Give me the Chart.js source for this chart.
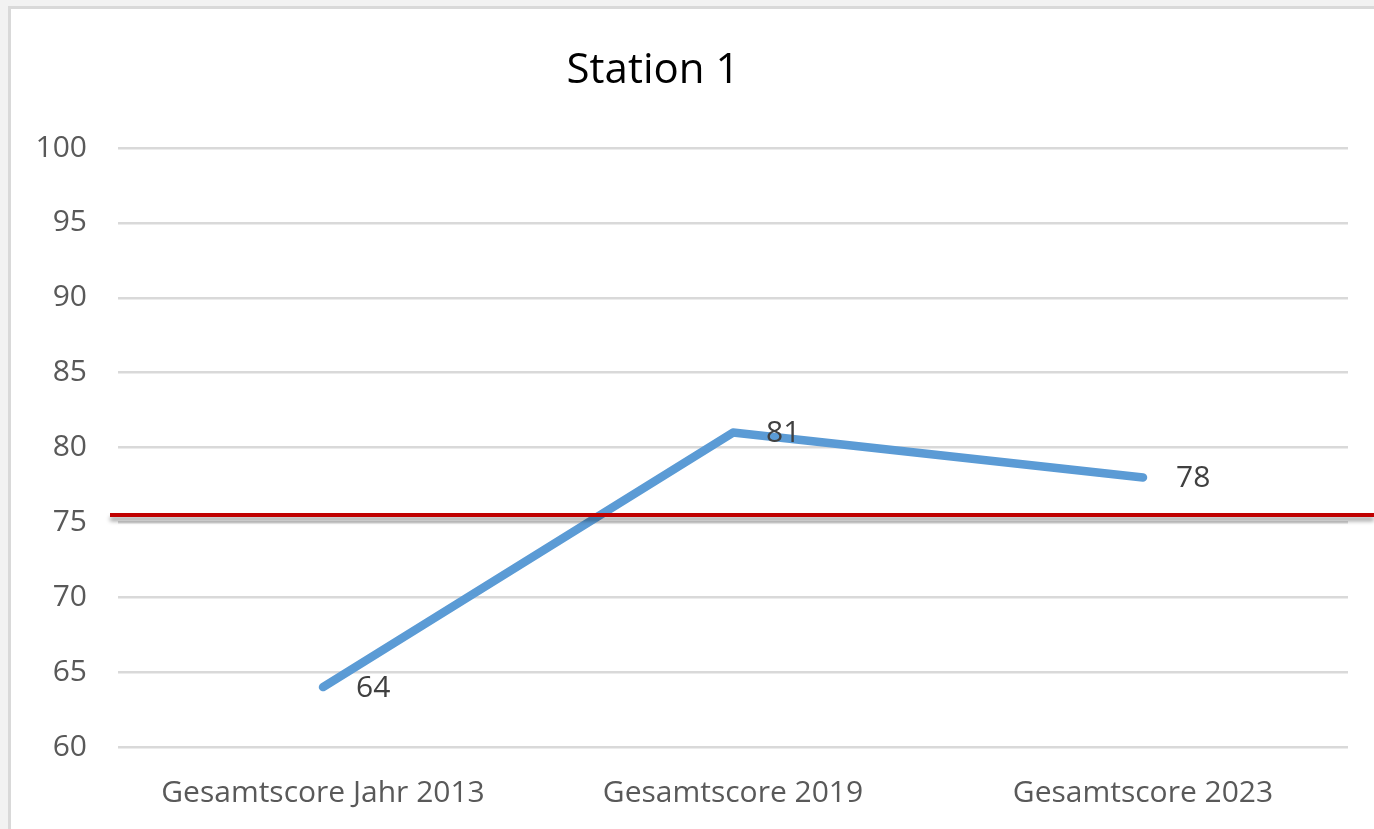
<!DOCTYPE html>
<html>
<head>
<meta charset="utf-8">
<script src="https://cdn.jsdelivr.net/npm/chart.js@4"></script>
<style>
  html, body { margin: 0; padding: 0; background: #f2f2f2; overflow: hidden; }
  #frame {
    position: absolute; left: 8px; top: 6px; width: 1380px; height: 840px;
    background: #fff; border-top: 3px solid #d9d9d9; border-left: 3px solid #d9d9d9;
  }
  #wrap { position: absolute; left: 0; top: 0; width: 1374px; height: 829px; }
</style>
</head>
<body>
<div id="frame"></div>
<div id="wrap"><canvas id="stationChart"></canvas></div>
<script>
const categories = ['Gesamtscore Jahr 2013', 'Gesamtscore 2019', 'Gesamtscore 2023'];
const scores = [64, 81, 78];
const thresholdValue = 75.5;
const chartTitle = 'Station 1';

const ctx = document.getElementById('stationChart').getContext('2d');

// title drawn by hand so it sits where the original one is
const titlePlugin = {
  id: 'titlePlugin',
  afterDraw(chart) {
    const c = chart.ctx;
    c.save();
    c.font = '42px "Open Sans"';
    c.fillStyle = '#000';
    c.textAlign = 'center';
    c.textBaseline = 'middle';
    c.fillText(chartTitle, 653, 71);
    c.restore();
  }
};

// value labels to the right of each point
const valueLabels = {
  id: 'valueLabels',
  afterDatasetsDraw(chart) {
    const c = chart.ctx;
    const meta = chart.getDatasetMeta(0);
    c.save();
    c.font = '30px "Open Sans"';
    c.fillStyle = '#404040';
    c.textAlign = 'left';
    c.textBaseline = 'middle';
    meta.data.forEach((pt, i) => {
      c.fillText(String(scores[i]), pt.x + 33, pt.y + 1);
    });
    c.restore();
  }
};

// red threshold line with soft shadow
const thresholdLine = {
  id: 'thresholdLine',
  afterDatasetsDraw(chart) {
    const c = chart.ctx;
    const y = chart.scales.y.getPixelForValue(thresholdValue);
    c.save();
    c.shadowColor = 'rgba(0,0,0,0.4)';
    c.shadowBlur = 4;
    c.shadowOffsetY = 4;
    c.strokeStyle = '#c00000';
    c.lineWidth = 4;
    c.beginPath();
    c.moveTo(110, y);
    c.lineTo(chart.width, y);
    c.stroke();
    c.restore();
  }
};

new Chart(ctx, {
  type: 'line',
  data: {
    labels: categories,
    datasets: [{
      data: scores,
      borderColor: '#5b9bd5',
      borderWidth: 8.5,
      borderCapStyle: 'round',
      borderJoinStyle: 'round',
      pointRadius: 0,
      fill: false,
      tension: 0
    }]
  },
  options: {
    responsive: true,
    maintainAspectRatio: false,
    animation: false,
    layout: { padding: { left: 0, right: 26, top: 148, bottom: 0 } },
    plugins: {
      legend: { display: false },
      tooltip: { enabled: false },
      title: { display: false }
    },
    scales: {
      x: {
        offset: true,
        grid: { display: false, drawTicks: false },
        border: { display: false },
        ticks: {
          color: '#595959',
          font: { family: 'Open Sans', size: 30 },
          padding: 28,
          maxRotation: 0,
          autoSkip: false
        },
        afterFit(scale) { scale.height = 82; }
      },
      y: {
        min: 60,
        max: 100,
        grid: { color: '#d9d9d9', lineWidth: 2.5, drawTicks: false },
        border: { display: false },
        ticks: {
          stepSize: 5,
          color: '#595959',
          font: { family: 'Open Sans', size: 30 },
          padding: 31
        },
        afterFit(scale) { scale.width = 118; }
      }
    }
  },
  plugins: [thresholdLine, valueLabels, titlePlugin]
});
</script>
</body>
</html>
